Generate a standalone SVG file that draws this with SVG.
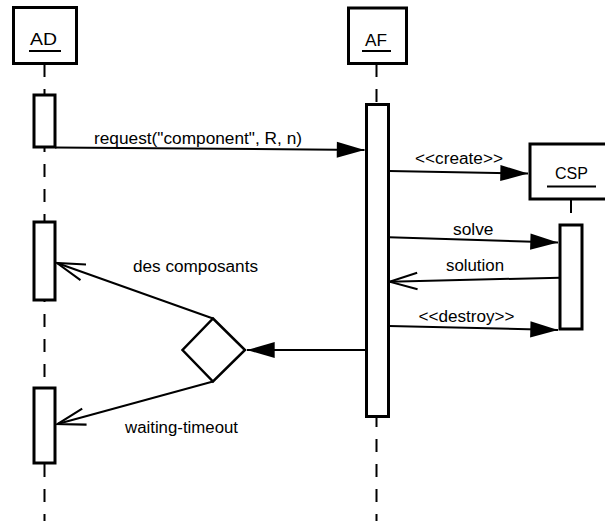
<svg xmlns="http://www.w3.org/2000/svg" width="605" height="521" viewBox="0 0 605 521">
<defs>
<style>
.box{fill:#fff;stroke:#000;stroke-width:3}
.act{fill:#fff;stroke:#000;stroke-width:3}
.life{stroke:#000;stroke-width:2;stroke-dasharray:13 12;fill:none}
.msg{stroke:#000;stroke-width:2;fill:none}
.lbl{font-family:"Liberation Sans",Arial,sans-serif;font-size:16px;fill:#000}
.ul{stroke:#000;stroke-width:2}
</style>
<marker id="fill" markerUnits="userSpaceOnUse" markerWidth="30" markerHeight="20" viewBox="-25 -8 26 16" refX="0" refY="0" orient="auto">
<path d="M0,0 L-24,-7 L-24,7 Z" fill="#000"/>
</marker>
<marker id="open" markerUnits="userSpaceOnUse" markerWidth="32" markerHeight="22" viewBox="-29 -10 31 20" refX="0" refY="0" orient="auto">
<path d="M-27,-8 L0,0 L-27,8" fill="none" stroke="#000" stroke-width="2"/>
</marker>
</defs>
<rect width="605" height="521" fill="#fff"/>
<g id="lifelines">
<line class="life" x1="44.5" y1="64" x2="44.5" y2="521"/>
<line class="life" x1="376.5" y1="64" x2="376.5" y2="521"/>
<line class="life" x1="571" y1="200" x2="571" y2="225"/>
</g>
<g id="AD">
<rect class="box" x="13.5" y="7.5" width="63" height="56"/>
<text class="lbl" x="43.5" y="45" text-anchor="middle" textLength="27" lengthAdjust="spacingAndGlyphs">AD</text>
<line class="ul" x1="29" y1="51" x2="61" y2="51"/>
<rect class="act" x="34" y="95" width="21" height="52"/>
<rect class="act" x="34" y="222" width="21" height="78"/>
<rect class="act" x="34" y="388" width="21" height="75"/>
</g>
<g id="AF">
<rect class="box" x="348.5" y="8" width="58" height="55.5"/>
<text class="lbl" x="376" y="46" text-anchor="middle" textLength="22" lengthAdjust="spacingAndGlyphs">AF</text>
<line class="ul" x1="362" y1="51" x2="391" y2="51"/>
<rect class="act" x="366.5" y="104.5" width="22" height="312"/>
</g>
<g id="CSP">
<rect class="box" x="530" y="144" width="84" height="55"/>
<text class="lbl" x="571.5" y="179" text-anchor="middle" textLength="33" lengthAdjust="spacingAndGlyphs">CSP</text>
<line class="ul" x1="547" y1="186.5" x2="596" y2="186.5"/>
<rect class="act" x="560" y="225" width="22" height="104"/>
</g>
<g id="choice">
<polygon points="213,318.5 245,350 213,381.5 182.5,350" fill="#fff" stroke="#000" stroke-width="2.5"/>
</g>
<g id="connectors">
<line class="msg" x1="55" y1="147.5" x2="364.5" y2="150" marker-end="url(#fill)"/>
<line class="msg" x1="389" y1="171" x2="528" y2="173.5" marker-end="url(#fill)"/>
<line class="msg" x1="389" y1="237.3" x2="558" y2="242.5" marker-end="url(#fill)"/>
<line class="msg" x1="560" y1="277.7" x2="389.5" y2="281.7" marker-end="url(#open)"/>
<line class="msg" x1="389" y1="326" x2="558" y2="330" marker-end="url(#fill)"/>
<line class="msg" x1="366" y1="350" x2="247" y2="350" marker-end="url(#fill)"/>
<line class="msg" x1="213" y1="318.5" x2="57" y2="263" marker-end="url(#open)"/>
<line class="msg" x1="213" y1="381.5" x2="57.5" y2="424" marker-end="url(#open)"/>
</g>
<g id="labels">
<text class="lbl" x="94" y="144" font-size="17" textLength="208" lengthAdjust="spacingAndGlyphs" style="font-size:17px">request("component", R, n)</text>
<text class="lbl" x="415" y="164" textLength="88" lengthAdjust="spacingAndGlyphs">&lt;&lt;create&gt;&gt;</text>
<text class="lbl" x="453" y="235" textLength="40.5" lengthAdjust="spacingAndGlyphs">solve</text>
<text class="lbl" x="446" y="271" textLength="58" lengthAdjust="spacingAndGlyphs">solution</text>
<text class="lbl" x="418.5" y="321.5" textLength="96" lengthAdjust="spacingAndGlyphs">&lt;&lt;destroy&gt;&gt;</text>
<text class="lbl" x="133" y="272" textLength="125" lengthAdjust="spacingAndGlyphs">des composants</text>
<text class="lbl" x="125" y="433" textLength="113" lengthAdjust="spacingAndGlyphs">waiting-timeout</text>
</g>
</svg>
